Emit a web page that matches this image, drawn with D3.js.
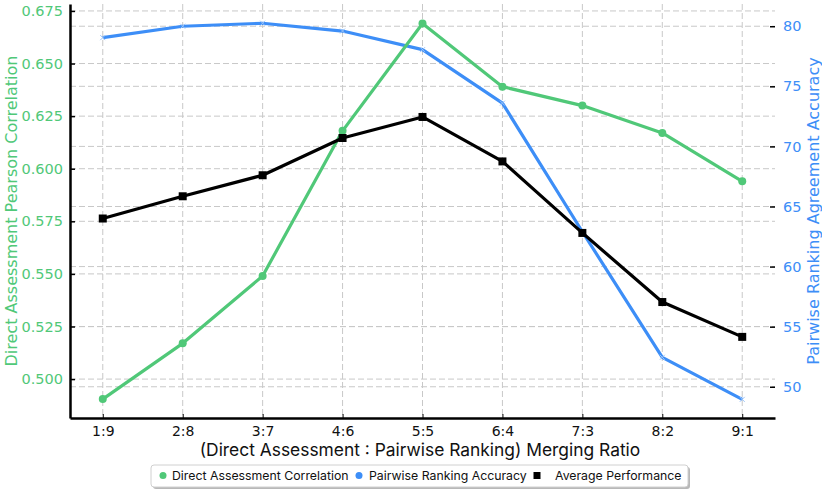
<!DOCTYPE html>
<html>
<head>
<meta charset="utf-8">
<script src="https://cdn.jsdelivr.net/npm/d3@7"></script>
<style>
  body { margin: 0; background: #fff; }
  svg { display: block; }
</style>
</head>
<body>
<div id="chart"></div>
<script>
// data
const ratios = ["1:9", "2:8", "3:7", "4:6", "5:5", "6:4", "7:3", "8:2", "9:1"];
const directCorr = [0.4905, 0.517, 0.549, 0.618, 0.669, 0.639, 0.630, 0.617, 0.594];
const pairwiseAcc = [79.05, 80.0, 80.25, 79.6, 78.05, 73.6, 62.9, 52.45, 48.95];
const avgPerf = [64.0, 65.85, 67.6, 70.7, 72.45, 68.75, 62.8, 57.05, 54.15];
const leftTicks = [0.500, 0.525, 0.550, 0.575, 0.600, 0.625, 0.650, 0.675];
const rightTicks = [50, 55, 60, 65, 70, 75, 80];

const green = "#50c878";
const blue = "#3d8ef7";
const gridColor = "#c8c8c8";

const W = 822, H = 491;
const plot = { left: 70, right: 775, top: 4, bottom: 418 };

const svg = d3.select("#chart").append("svg")
    .attr("width", W)
    .attr("height", H);

const x = d3.scalePoint()
    .domain(ratios)
    .range([plot.left, plot.right])
    .padding(0.41);

const yL = d3.scaleLinear()
    .domain([0.4815, 0.6783])
    .range([plot.bottom, plot.top]);

const yR = d3.scaleLinear()
    .domain([47.4, 81.85])
    .range([plot.bottom, plot.top]);

// grid lines (both axes contribute horizontal lines)
const grid = svg.append("g")
    .attr("stroke", gridColor)
    .attr("stroke-width", 1)
    .attr("stroke-dasharray", "6,3");

grid.selectAll(".vg").data(ratios).enter().append("line")
    .attr("x1", d => x(d)).attr("x2", d => x(d))
    .attr("y1", plot.top).attr("y2", plot.bottom);

grid.selectAll(".hl").data(leftTicks).enter().append("line")
    .attr("x1", plot.left).attr("x2", plot.right)
    .attr("y1", d => yL(d)).attr("y2", d => yL(d));

grid.selectAll(".hr").data(rightTicks).enter().append("line")
    .attr("x1", plot.left).attr("x2", plot.right)
    .attr("y1", d => yR(d)).attr("y2", d => yR(d));

// axes
const xAxis = svg.append("g")
    .attr("transform", `translate(0,${plot.bottom})`)
    .call(d3.axisBottom(x).tickSizeInner(-4).tickSizeOuter(0).tickPadding(8));
xAxis.select(".domain").attr("stroke", "#000").attr("stroke-width", 2.5);
xAxis.selectAll(".tick line").attr("stroke", "#000");
xAxis.selectAll("text")
    .attr("font-family", "DejaVu Sans")
    .attr("font-size", 14)
    .attr("fill", "#111");

const leftAxis = svg.append("g")
    .attr("transform", `translate(${plot.left},0)`)
    .call(d3.axisLeft(yL).tickValues(leftTicks).tickFormat(d3.format(".3f"))
        .tickSizeInner(-5).tickSizeOuter(0).tickPadding(7));
leftAxis.select(".domain").attr("stroke", "#000").attr("stroke-width", 2.5);
leftAxis.selectAll(".tick line").attr("stroke", "#000").attr("stroke-width", 1.5);
leftAxis.selectAll("text")
    .attr("font-family", "DejaVu Sans")
    .attr("font-size", 14.5)
    .attr("fill", green);

const rightAxis = svg.append("g")
    .attr("transform", `translate(${plot.right},0)`)
    .call(d3.axisRight(yR).tickValues(rightTicks).tickSizeInner(-5).tickSizeOuter(0).tickPadding(8));
rightAxis.select(".domain").remove();
rightAxis.selectAll(".tick line").attr("stroke", "#000").attr("stroke-width", 1.5);
rightAxis.selectAll("text")
    .attr("font-family", "DejaVu Sans")
    .attr("font-size", 14.5)
    .attr("fill", blue);

// axis titles
svg.append("text")
    .attr("transform", `translate(17,${(plot.top + plot.bottom) / 2}) rotate(-90)`)
    .attr("text-anchor", "middle")
    .attr("font-family", "DejaVu Sans")
    .attr("font-size", 16)
    .attr("fill", green)
    .text("Direct Assessment Pearson Correlation");

svg.append("text")
    .attr("transform", `translate(819,${(plot.top + plot.bottom) / 2}) rotate(-90)`)
    .attr("text-anchor", "middle")
    .attr("font-family", "DejaVu Sans")
    .attr("font-size", 16)
    .attr("fill", blue)
    .text("Pairwise Ranking Agreement Accuracy");

svg.append("text")
    .attr("x", 420)
    .attr("y", 456)
    .attr("text-anchor", "middle")
    .attr("font-family", "Inter")
    .attr("font-size", 17.4)
    .attr("fill", "#111")
    .text("(Direct Assessment : Pairwise Ranking) Merging Ratio");

// lines
const lineL = d3.line().x((d, i) => x(ratios[i])).y(d => yL(d));
const lineR = d3.line().x((d, i) => x(ratios[i])).y(d => yR(d));

svg.append("path")
    .datum(pairwiseAcc)
    .attr("fill", "none")
    .attr("stroke", blue)
    .attr("stroke-width", 3.2)
    .attr("stroke-linejoin", "round")
    .attr("d", lineR);

svg.append("g").selectAll("path").data(pairwiseAcc).enter().append("path")
    .attr("d", (d, i) => {
        const cx = x(ratios[i]), cy = yR(d), s = 2.5;
        return `M${cx - s},${cy - s}L${cx + s},${cy + s}M${cx - s},${cy + s}L${cx + s},${cy - s}`;
    })
    .attr("stroke", "#9cc4f7")
    .attr("stroke-width", 1);

svg.append("path")
    .datum(directCorr)
    .attr("fill", "none")
    .attr("stroke", green)
    .attr("stroke-width", 3.2)
    .attr("stroke-linejoin", "round")
    .attr("d", lineL);

svg.append("g").selectAll("circle").data(directCorr).enter().append("circle")
    .attr("cx", (d, i) => x(ratios[i]))
    .attr("cy", d => yL(d))
    .attr("r", 4)
    .attr("fill", green);

svg.append("path")
    .datum(avgPerf)
    .attr("fill", "none")
    .attr("stroke", "#000")
    .attr("stroke-width", 3.2)
    .attr("stroke-linejoin", "round")
    .attr("d", lineR);

svg.append("g").selectAll("rect").data(avgPerf).enter().append("rect")
    .attr("x", (d, i) => x(ratios[i]) - 4)
    .attr("y", d => yR(d) - 4)
    .attr("width", 8)
    .attr("height", 8)
    .attr("fill", "#000");

// legend
const legendItems = [
    { label: "Direct Assessment Correlation", color: green, shape: "circle" },
    { label: "Pairwise Ranking Accuracy", color: blue, shape: "circle" },
    { label: "Average Performance", color: "#000", shape: "square" }
];

const legend = svg.append("g");
legend.append("rect")
    .attr("x", 153).attr("y", 467)
    .attr("width", 537).attr("height", 22)
    .attr("rx", 3)
    .attr("fill", "#b8b8b8");
legend.append("rect")
    .attr("x", 151).attr("y", 465)
    .attr("width", 537).attr("height", 22)
    .attr("rx", 3)
    .attr("fill", "#fff")
    .attr("stroke", "#d0d0d0");

const legendX = [163, 359, 537];
const textX = [172, 369, 555];
legendItems.forEach((item, i) => {
    if (item.shape === "circle") {
        legend.append("circle")
            .attr("cx", legendX[i]).attr("cy", 475.5)
            .attr("r", 3.5)
            .attr("fill", item.color);
    } else {
        legend.append("rect")
            .attr("x", legendX[i] - 3.5).attr("y", 472)
            .attr("width", 7).attr("height", 7)
            .attr("fill", item.color);
    }
    legend.append("text")
        .attr("x", textX[i])
        .attr("y", 480)
        .attr("font-family", "Inter")
        .attr("font-size", 12.3)
        .attr("fill", "#111")
        .text(item.label);
});
</script>
</body>
</html>
